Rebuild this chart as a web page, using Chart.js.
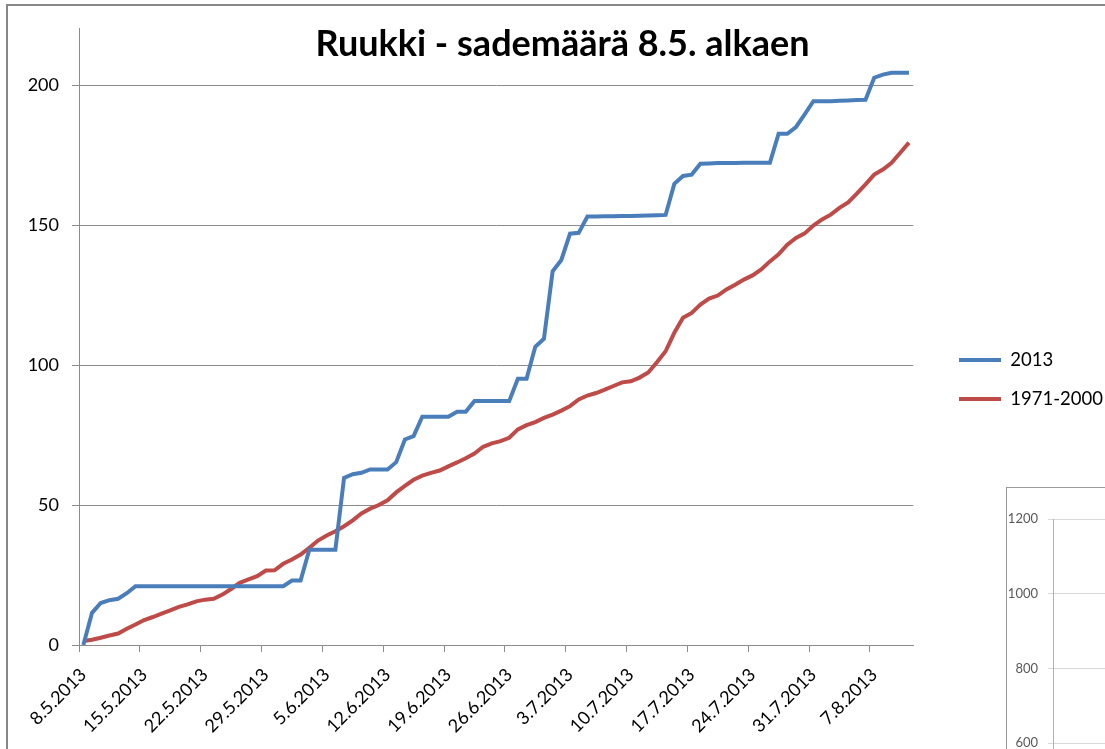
<!DOCTYPE html>
<html>
<head>
<meta charset="utf-8">
<script src="https://cdn.jsdelivr.net/npm/chart.js@4.4.1/dist/chart.umd.min.js"></script>
<style>
  html, body { margin: 0; padding: 0; background: #fff; overflow: hidden; }
  body { width: 1105px; height: 749px; position: relative; }
  #frame { position: absolute; left: 6px; top: 4px; width: 1200px; height: 900px; border-left: 2px solid #878787; border-top: 2px solid #878787; }
  #main { position: absolute; left: 0; top: 0; }
  #insetFrame { position: absolute; left: 1006px; top: 487px; width: 300px; height: 400px; border-left: 1px solid #9a9a9a; border-top: 1px solid #9a9a9a; background: #fff; }
  #inset { position: absolute; left: 1008px; top: 489px; }
</style>
</head>
<body>
<div id="frame"></div>
<canvas id="main" width="1105" height="749"></canvas>
<div id="insetFrame"></div>
<canvas id="inset" width="120" height="496"></canvas>
<script>
// one category per day, 8.5.2013 -> 11.8.2013
const days = [];
for (let i = 0; i < 96; i++) {
  const d = new Date(2013, 4, 8 + i);
  days.push(d.getDate() + '.' + (d.getMonth() + 1) + '.2013');
}

const tickLabels = ['8.5.2013', '15.5.2013', '22.5.2013', '29.5.2013', '5.6.2013', '12.6.2013', '19.6.2013',
  '26.6.2013', '3.7.2013', '10.7.2013', '17.7.2013', '24.7.2013', '31.7.2013', '7.8.2013'];

// cumulative rain (mm)
const rain2013 = [
  0, 11.5, 15, 16, 16.5, 18.5,
  21, 21, 21, 21, 21, 21, 21, 21, 21, 21, 21, 21, 21, 21, 21, 21, 21, 21,
  23, 23,
  34, 34, 34, 34,
  59.7, 61, 61.5, 62.7, 62.7, 62.7, 65.3, 73.4, 74.6,
  81.5, 81.5, 81.5, 81.5,
  83.3, 83.3,
  87.1, 87.1, 87.1, 87.1, 87.1,
  95.1, 95.1, 106.5, 109.4, 133.5, 137.5, 146.9, 147.2,
  153, 153, 153.1, 153.1, 153.2, 153.2, 153.3, 153.4, 153.5, 153.6,
  164.7, 167.5, 168, 171.9,
  172, 172.1, 172.1, 172.1, 172.2, 172.2, 172.2, 172.2,
  182.6, 182.6, 185, 189.5,
  194.2, 194.2, 194.2, 194.4, 194.5, 194.6, 194.7,
  202.6, 203.7, 204.4, 204.4, 204.4
];

const rainNormal = [
  1.4, 1.9, 2.6, 3.4, 4.1, 5.8, 7.3, 8.9, 10, 11.2,
  12.4, 13.6, 14.5, 15.6, 16.2, 16.5, 18, 20, 22.2, 23.4,
  24.6, 26.6, 26.7, 29, 30.5, 32.3, 34.7, 37.3, 39.1, 40.6,
  42.4, 44.5, 47, 48.7, 50, 51.7, 54.5, 56.8, 59, 60.5,
  61.5, 62.3, 63.8, 65.2, 66.7, 68.4, 70.8, 72, 72.8, 74,
  77, 78.5, 79.6, 81.1, 82.3, 83.7, 85.3, 87.7, 89.1, 90,
  91.2, 92.5, 93.8, 94.2, 95.5, 97.3, 101, 104.9, 111.5, 116.9,
  118.6, 121.6, 123.7, 124.8, 127, 128.7, 130.5, 132, 134.1, 137,
  139.5, 143, 145.4, 147, 149.8, 152, 153.7, 156.1, 158.1, 161.2,
  164.5, 168, 169.8, 172.2, 175.8, 179.4
];

const insetTicks = [600, 800, 1000, 1200];

const blue = '#4A7EBB';
const red = '#BE4B48';
const gridGray = '#8c8c8c';

new Chart(document.getElementById('main'), {
  type: 'line',
  data: {
    labels: days,
    datasets: [
      { label: '2013', data: rain2013, borderColor: blue, backgroundColor: blue, borderWidth: 4, pointRadius: 0, tension: 0 },
      { label: '1971-2000', data: rainNormal, borderColor: red, backgroundColor: red, borderWidth: 4, pointRadius: 0, tension: 0 }
    ]
  },
  options: {
    responsive: false,
    animation: false,
    layout: { padding: { left: 20, bottom: -10 } },
    plugins: {
      title: {
        display: true,
        text: 'Ruukki - sademäärä 8.5. alkaen',
        color: '#000',
        font: { family: 'Lato', size: 36, weight: 'bold', lineHeight: 1.2 },
        padding: { top: 23.2, bottom: -37.4 }
      },
      legend: {
        position: 'right',
        maxWidth: 166.5,
        labels: {
          usePointStyle: true,
          pointStyle: 'line',
          pointStyleWidth: 42,
          padding: 20.5,
          color: '#000',
          font: { family: 'Lato', size: 18.5 }
        }
      },
      tooltip: { enabled: false }
    },
    scales: {
      x: {
        offset: true,
        grid: {
          offset: true,
          drawOnChartArea: false,
          tickLength: 7,
          tickColor: (c) => (c.index % 7 === 0 ? gridGray : 'rgba(0,0,0,0)')
        },
        border: { color: gridGray },
        ticks: {
          autoSkip: false,
          maxRotation: 45,
          minRotation: 45,
          padding: 12,
          color: '#000',
          font: { family: 'Lato', size: 18 },
          callback: (v, i) => (i % 7 === 0 ? (tickLabels[i / 7] || '') : '')
        },
        afterFit: (s) => { s.height = 114; }
      },
      y: {
        min: 0,
        max: 220,
        ticks: { stepSize: 50, includeBounds: false, padding: 13, color: '#000', font: { family: 'Lato', size: 18 } },
        grid: { color: gridGray, tickLength: 7 },
        border: { color: gridGray },
        afterFit: (s) => { s.width = 59; }
      },
      // empty strip between plot and legend
      gap: {
        type: 'linear',
        position: 'right',
        display: true,
        grid: { display: false, drawTicks: false },
        border: { display: false },
        ticks: { display: false },
        afterFit: (s) => { s.width = 25.2; }
      }
    }
  }
});

// the corner of the neighbouring chart, cut by the picture edge
new Chart(document.getElementById('inset'), {
  type: 'line',
  data: { labels: [], datasets: [] },
  options: {
    responsive: false,
    animation: false,
    layout: { padding: { top: 30, bottom: 1 } },
    plugins: { legend: { display: false }, tooltip: { enabled: false } },
    scales: {
      x: { display: false },
      y: {
        min: 0,
        max: insetTicks[insetTicks.length - 1],
        ticks: {
          stepSize: insetTicks[1] - insetTicks[0],
          padding: 10,
          color: '#595959',
          font: { family: 'Lato', size: 13 },
          callback: (v) => String(v)
        },
        grid: { color: '#d9d9d9', tickLength: 5 },
        border: { color: '#b0b0b0' },
        afterFit: (s) => { s.width = 45; }
      }
    }
  }
});
</script>
</body>
</html>
